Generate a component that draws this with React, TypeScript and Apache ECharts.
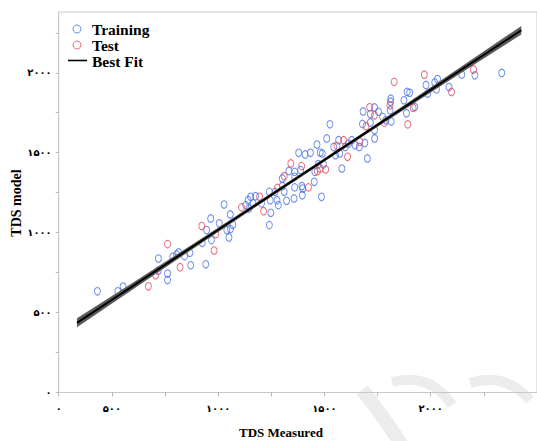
import React, { useEffect, useRef } from "react";
import * as echarts from "echarts";

// ---- data ----
const trainMeasured = [
  432, 528, 553, 719, 718, 762, 762, 787, 804, 814, 842, 867, 871, 925, 942, 946, 965, 969, 1005, 1028,
  1057, 1041, 1051, 1058, 1069, 1130, 1141, 1153, 1176, 1145, 1164, 1204, 1241, 1245, 1248, 1241, 1277, 1283, 1268, 1302,
  1311, 1322, 1357, 1360, 1302, 1333, 1379, 1360, 1388, 1394, 1396, 1360, 1398, 1409, 1434, 1465, 1480, 1490, 1471, 1455,
  1495, 1452, 1486, 1526, 1511, 1544, 1567, 1552, 1572, 1582, 1598, 1613, 1628, 1644, 1664, 1690, 1702, 1682, 1736, 1716,
  1754, 1679, 1716, 1736, 1736, 1774, 1789, 1812, 1811, 1809, 1814, 1874, 1889, 1901, 1886, 1925, 1978, 1986, 2019, 2032,
  2027, 2086, 2146, 2208, 2334,
];
const trainModel = [
  633, 633, 663, 838, 761, 744, 703, 849, 864, 876, 853, 874, 796, 936, 802, 1016, 1089, 953, 1058, 1176,
  1114, 1016, 970, 1022, 1049, 1172, 1203, 1224, 1228, 1151, 1183, 1183, 1255, 1203, 1124, 1047, 1203, 1172, 1255, 1291,
  1255, 1199, 1214, 1283, 1339, 1386, 1499, 1380, 1391, 1291, 1234, 1349, 1276, 1489, 1499, 1551, 1501, 1495, 1428, 1380,
  1426, 1318, 1224, 1678, 1589, 1536, 1578, 1484, 1495, 1401, 1536, 1557, 1578, 1547, 1536, 1561, 1464, 1758, 1783, 1742,
  1756, 1680, 1689, 1641, 1589, 1724, 1703, 1838, 1819, 1766, 1695, 1828, 1880, 1875, 1747, 1786, 1924, 1870, 1939, 1961,
  1896, 1911, 1989, 1984, 1999,
];
const testMeasured = [
  672, 706, 762, 821, 923, 981, 989, 1110, 1195, 1214, 1279, 1311, 1342, 1393, 1425, 1467, 1480, 1506, 1559, 1590,
  1609, 1667, 1713, 1696, 1736, 1782, 1808, 1828, 1892, 1917, 1970, 2098, 2201,
];
const testModel = [
  664, 734, 928, 784, 1041, 888, 991, 1158, 1224, 1134, 1280, 1353, 1433, 1416, 1283, 1384, 1401, 1395, 1543, 1578,
  1474, 1568, 1784, 1666, 1734, 1688, 1797, 1943, 1677, 1781, 1988, 1880, 2020,
];
const fitMeasured = [336, 2426];
const fitModel = [436, 2266];
const bandMeasured = [336, 600, 900, 1200, 1450, 1700, 2000, 2200, 2426];
const bandLow = [408, 646, 915, 1181, 1401, 1619, 1877, 2047, 2239];
const bandHigh = [464, 688, 945, 1204, 1421, 1641, 1909, 2089, 2293];

const xTickValues = [500, 1000, 1500, 2000];
const yTickValues = [0, 500, 1000, 1500, 2000];

const X_MIN = 250;
const X_MAX = 2500;
const Y_MIN = 0;
const Y_MAX = 2380;

const BLUE = "#4470e6";
const RED = "#e0485a";
const WATERMARK = "#ececec";
const SERIF = "'Liberation Serif', 'Times New Roman', 'DejaVu Serif', serif";
const LABEL_FONT = "'Liberation Serif', 'DejaVu Sans', serif";

const faDigits = "۰۱۲۳۴۵۶۷۸۹";
const toFa = (n: number) => String(n).replace(/\d/g, (d) => faDigits[+d]);

export default function App() {
  const ref = useRef<HTMLDivElement>(null);

  useEffect(() => {
    if (!ref.current) return;
    const chart = echarts.init(ref.current, null, { renderer: "svg" });

    const pairs = (xs: number[], ys: number[]) => xs.map((x, i) => [x, ys[i]]);

    const option: any = {
      animation: false,
      backgroundColor: "#ffffff",
      grid: {
        left: 58.7,
        right: -10.8,
        top: 12,
        bottom: 48.5,
        show: true,
        borderColor: "#c8c8c8",
        borderWidth: 1,
        backgroundColor: "transparent",
      },
      legend: {
        orient: "vertical",
        left: 62,
        top: 16,
        padding: 5,
        itemWidth: 20,
        itemHeight: 8,
        itemGap: 0,
        textStyle: {
          fontFamily: SERIF,
          fontWeight: "bold",
          fontSize: 15.5,
          lineHeight: 15.3,
          color: "#000",
        },
        data: [
          {
            name: "Training",
            icon: "circle",
            itemStyle: { color: "transparent", borderColor: BLUE, borderWidth: 1 },
          },
          {
            name: "Test",
            icon: "circle",
            itemStyle: { color: "transparent", borderColor: RED, borderWidth: 1 },
          },
          { name: "Best Fit", icon: "none" },
        ],
      },
      xAxis: {
        type: "value",
        min: X_MIN,
        max: X_MAX,
        interval: 250,
        splitLine: { show: false },
        axisLine: { show: true, lineStyle: { color: "#c8c8c8", width: 1 } },
        axisTick: { show: true, length: 4, lineStyle: { color: "#b8b8b8" } },
        axisLabel: {
          margin: 11,
          showMaxLabel: false,
          fontFamily: LABEL_FONT,
          fontWeight: "bold",
          fontSize: 10,
          color: "#000",
          formatter: (v: number) =>
            v === X_MIN ? toFa(0) : xTickValues.includes(v) ? toFa(v) : "",
        },
      },
      yAxis: {
        type: "value",
        min: Y_MIN,
        max: Y_MAX,
        interval: 250,
        splitLine: { show: false },
        axisLine: { show: true, lineStyle: { color: "#c8c8c8", width: 1 } },
        axisTick: { show: true, length: 3, lineStyle: { color: "#b8b8b8" } },
        axisLabel: {
          margin: 7,
          showMaxLabel: false,
          fontFamily: LABEL_FONT,
          fontWeight: "bold",
          fontSize: 10,
          color: "#000",
          formatter: (v: number) => (yTickValues.includes(v) ? toFa(v) : ""),
        },
      },
      graphic: [
        {
          type: "bezierCurve",
          z: -10,
          silent: true,
          shape: { x1: 362, y1: 390, cpx1: 375, cpy1: 405, x2: 402, y2: 445 },
          style: { stroke: WATERMARK, lineWidth: 14, fill: "none" },
        },
        {
          type: "bezierCurve",
          z: -10,
          silent: true,
          shape: { x1: 392, y1: 382, cpx1: 430, cpy1: 372, x2: 452, y2: 405 },
          style: { stroke: WATERMARK, lineWidth: 10, fill: "none" },
        },
        {
          type: "bezierCurve",
          z: -10,
          silent: true,
          shape: { x1: 470, y1: 383, cpx1: 505, cpy1: 372, x2: 530, y2: 400 },
          style: { stroke: WATERMARK, lineWidth: 10, fill: "none" },
        },
        {
          type: "line",
          z: 10,
          silent: true,
          shape: { x1: 68, y1: 60.5, x2: 87, y2: 60.5 },
          style: { stroke: "#000", lineWidth: 1.6 },
        },
        {
          type: "text",
          left: 282 - 43,
          top: 426,
          style: {
            text: "TDS Measured",
            font: `bold 13px ${SERIF}`,
            fill: "#000",
          },
        },
        {
          type: "text",
          x: 16,
          y: 203,
          rotation: Math.PI / 2,
          style: {
            text: "TDS model",
            font: `bold 14px ${SERIF}`,
            fill: "#000",
            align: "center",
            verticalAlign: "middle",
          },
        },
      ],
      series: [
        {
          name: "Training",
          type: "scatter",
          data: pairs(trainMeasured, trainModel),
          symbol: "circle",
          symbolSize: [6, 7.5],
          itemStyle: { color: "transparent", borderColor: BLUE, borderWidth: 1 },
          z: 2,
        },
        {
          name: "Test",
          type: "scatter",
          data: pairs(testMeasured, testModel),
          symbol: "circle",
          symbolSize: [6, 7.5],
          itemStyle: { color: "transparent", borderColor: RED, borderWidth: 1 },
          z: 2,
        },
        {
          name: "band",
          type: "custom",
          silent: true,
          z: 3,
          data: [[bandMeasured[0], bandLow[0]]],
          renderItem: (params: any, api: any) => {
            const upper = bandMeasured.map((x, i) => api.coord([x, bandHigh[i]]));
            const lower = bandMeasured
              .map((x, i) => api.coord([x, bandLow[i]]))
              .reverse();
            return {
              type: "polygon",
              shape: { points: upper.concat(lower) },
              style: { fill: "#5c5c5c", stroke: "none" },
            };
          },
        },
        {
          name: "Best Fit",
          type: "line",
          data: pairs(fitMeasured, fitModel),
          symbol: "none",
          lineStyle: { color: "#000", width: 2 },
          itemStyle: { color: "#000" },
          z: 4,
        },
      ],
    };

    chart.setOption(option);
    return () => chart.dispose();
  }, []);

  return (
    <div
      ref={ref}
      style={{ position: "absolute", left: 0, top: 0, width: 537, height: 441 }}
    />
  );
}
